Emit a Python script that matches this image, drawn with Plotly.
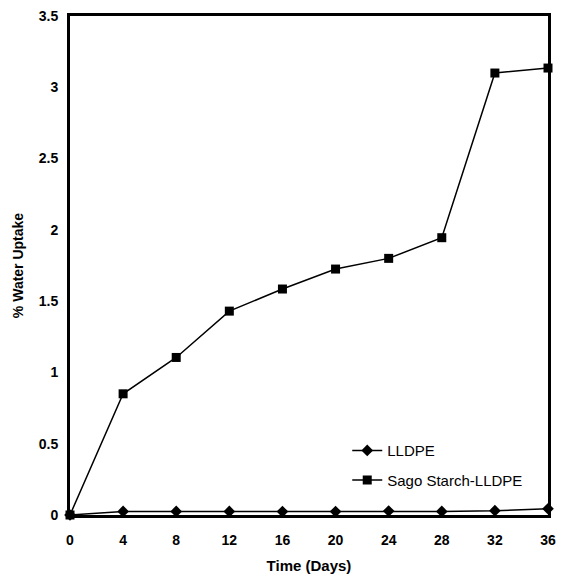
import plotly.graph_objects as go

days = [0, 4, 8, 12, 16, 20, 24, 28, 32, 36]
lldpe = [0.0, 0.025, 0.025, 0.025, 0.024, 0.024, 0.028, 0.025, 0.03, 0.044]
sago_lldpe = [0.0, 0.85, 1.105, 1.43, 1.585, 1.725, 1.80, 1.945, 3.10, 3.135]

x_ticks = [0, 4, 8, 12, 16, 20, 24, 28, 32, 36]
y_ticks = [0, 0.5, 1, 1.5, 2, 2.5, 3, 3.5]
y_tick_text = ["0", "0.5", "1", "1.5", "2", "2.5", "3", "3.5"]

fig = go.Figure()
fig.add_trace(go.Scatter(
    x=days, y=lldpe, name="LLDPE", mode="lines+markers",
    line=dict(color="black", width=1.5),
    marker=dict(symbol="diamond", size=9, color="black"),
    legendgroup="a", cliponaxis=False,
))
fig.add_trace(go.Scatter(
    x=days, y=sago_lldpe, name="Sago Starch-LLDPE", mode="lines+markers",
    line=dict(color="black", width=1.5),
    marker=dict(symbol="square", size=9, color="black"),
    legendgroup="b", cliponaxis=False,
))

family = "Liberation Sans, Arial, sans-serif"
tick_font = dict(family=family, size=14, color="black", weight="bold")

fig.update_layout(
    width=564, height=580,
    margin=dict(l=70, r=8, t=15, b=65),
    paper_bgcolor="white", plot_bgcolor="white",
    showlegend=True,
    legend=dict(
        x=0.58, y=0.162, xanchor="left", yanchor="top",
        font=dict(family=family, size=15, color="black"),
        bgcolor="rgba(0,0,0,0)", tracegroupgap=7, itemwidth=30,
    ),
    xaxis=dict(
        range=[0, 36], tickvals=x_ticks, ticktext=[str(v) for v in x_ticks],
        showgrid=False, zeroline=False, ticks="",
        showline=True, linecolor="black", linewidth=3, mirror=True,
        tickfont=tick_font, ticklabelstandoff=10,
        title=dict(text="<b>Time (Days)</b>",
                   font=dict(family=family, size=15, color="black"), standoff=14),
    ),
    yaxis=dict(
        range=[0, 3.5], tickvals=y_ticks, ticktext=y_tick_text,
        showgrid=False, zeroline=False, ticks="",
        showline=True, linecolor="black", linewidth=3, mirror=True,
        tickfont=tick_font, ticklabelstandoff=6,
        title=dict(text="<b>% Water Uptake</b>",
                   font=dict(family=family, size=14, color="black"), standoff=12),
    ),
)

fig.write_html("out.html")
